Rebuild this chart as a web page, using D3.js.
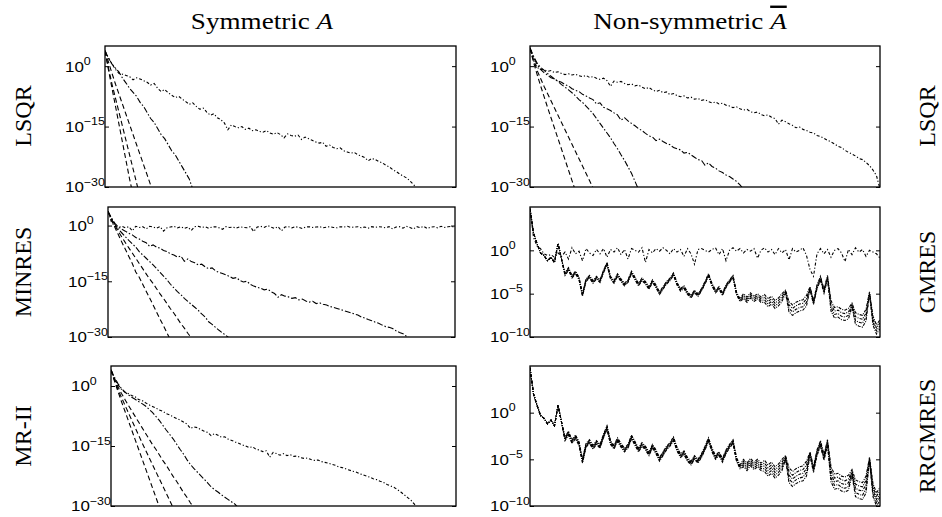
<!DOCTYPE html>
<html>
<head>
<meta charset="utf-8">
<script src="https://cdn.jsdelivr.net/npm/d3@7"></script>
<style>
  body { margin: 0; background: #fff; }
  text { fill: #000; }
</style>
</head>
<body>
<svg id="chart" width="942" height="517"></svg>
<script>
// log10 of the error per iteration

var symLsqr = [
  [3.8, -1, -5.5, -10, -14.5, -19, -23.5, -28, -32],
  [3.8, -0.5, -4.5, -8, -11.5, -15, -18.5, -22, -25.5, -29, -32.5],
  [3.8, 1, -1.8, -4.5, -7, -9.5, -12, -14.5, -17, -19.5, -22, -24.5, -27, -29.5, -32],
  [3.8, 2, 0.5, -0.5, -1.5, -3, -4.2, -5.5, -6.5, -7.5, -9, -10, -11.5, -13, -14, -15.5, -17, -18,
   -19.5, -21, -22, -23.5, -25, -26.5, -28, -30.5],
  [3.8, 2.0, 0.5, -0.8, -1.8, -2.0, -2.3, -2.6, -3.4, -2.9, -3.2, -3.6, -4.0, -4.7, -4.3, -5.5, -6.3,
   -5.8, -6.6, -7.2, -7.8, -7.5, -8.2, -8.8, -9.5, -9.1, -10.0, -10.7, -10.4, -11.4, -12.2, -11.8,
   -12.8, -13.3, -14.1, -15.8, -14.6, -15.0, -15.3, -15.0, -15.7, -15.4, -16.0, -15.8, -16.2, -16.4,
   -16.0, -16.6, -16.9, -16.5, -17.0, -17.8, -16.8, -17.2, -17.4, -17.1, -18.2, -17.6, -18.0, -18.4,
   -18.8, -19.1, -18.9, -19.9, -19.6, -20.2, -20.5, -20.3, -21.0, -21.3, -21.6, -21.4, -22.0, -22.3,
   -22.7, -23.5, -22.9, -23.2, -23.7, -24.0, -24.6, -25.0, -25.7, -26.2, -26.8, -27.3, -27.8, -28.6,
   -29.5, -30.5]
];

var nonsymLsqr = [
  [4.5, 1, -2, -4.8, -7.5, -10.2, -12.8, -15.4, -18, -20.6, -23.2, -25.8, -28.4, -31],
  [4.5, 1.5, -1, -3, -5, -6.8, -8.6, -10.4, -12.2, -14, -15.8, -17.6, -19.4, -21.2, -23, -24.8,
   -26.6, -28.4, -30.2, -32],
  [4.5, 2.5, 0.8, -0.3, -1.0, -1.8, -2.5, -3.2, -3.8, -4.6, -5.2, -5.9, -6.6, -7.4, -8.3, -9.0,
   -9.9, -10.8, -11.8, -13.0, -14.2, -15.4, -16.6, -17.8, -19.2, -20.5, -22.0, -23.4, -25.0, -26.6,
   -28.6, -30.6],
  [4.5, 2.2, 0.5, -0.8, -1.6, -2.2, -2.9, -3.2, -3.7, -4.0, -4.6, -4.9, -5.6, -6.0, -6.3, -7.0,
   -7.4, -7.9, -8.3, -9.4, -9.1, -10.2, -10.6, -11.0, -11.6, -12.1, -13.4, -12.8, -13.6, -14.2,
   -14.8, -15.5, -16.0, -16.7, -17.3, -17.6, -18.5, -18.1, -18.7, -19.2, -19.5, -20.2, -20.5, -20.8,
   -21.6, -21.4, -22.0, -22.6, -23.2, -23.4, -24.6, -24.0, -24.9, -25.3, -26.0, -26.4, -27.0, -27.4,
   -28.0, -28.6, -29.5, -30.5],
  [4.5, 1.5, -0.3, -0.8, -0.9, -1.3, -1.1, -1.6, -1.4, -1.8, -2.1, -1.9, -2.2, -2.0, -2.4, -2.6,
   -2.3, -2.8, -2.6, -3.0, -3.3, -3.0, -3.6, -5.0, -3.7, -4.0, -3.8, -4.3, -4.6, -4.4, -4.9, -4.7,
   -5.2, -5.6, -5.3, -5.9, -6.3, -6.0, -6.6, -6.4, -7.1, -6.8, -7.3, -7.6, -7.4, -7.9, -7.7, -8.2,
   -8.0, -8.5, -8.3, -8.8, -9.1, -8.9, -9.4, -9.2, -9.7, -9.9, -10.3, -10.1, -10.6, -10.9, -10.7,
   -11.3, -11.6, -11.4, -12.0, -12.3, -12.1, -12.7, -13.0, -14.4, -13.4, -13.8, -14.3, -14.7, -15.3,
   -15.1, -15.7, -16.0, -16.4, -16.6, -17.2, -17.5, -17.9, -18.4, -18.8, -19.3, -19.9, -20.2, -20.9,
   -21.4, -21.8, -22.3, -22.9, -23.2, -23.9, -24.7, -25.8, -27.2, -30.5]
];

var symMinres = [
  [3.8, 1.5, -0.5, -2.5, -4.5, -6.4, -8.3, -10.2, -12.5, -13.9, -15.8, -17.7, -19.5, -21.4, -23.3,
   -25.2, -27.0, -28.9, -30.8],
  [3.8, 1.8, 0, -1.6, -3.1, -4.6, -6.0, -7.4, -8.8, -10.2, -11.6, -13.0, -14.4, -15.6, -17.0, -18.4,
   -19.6, -21.0, -22.4, -23.6, -25.0, -26.4, -27.6, -29.0, -30.2, -31.5],
  [3.8, 2.0, 0.3, -1.0, -2.0, -3.0, -4.0, -4.9, -5.8, -7.0, -7.9, -8.8, -9.7, -10.6, -11.6, -12.6,
   -13.6, -14.6, -15.8, -16.8, -17.8, -18.6, -19.6, -20.4, -21.2, -22.0, -22.8, -23.8, -24.6, -25.9,
   -26.6, -27.4, -28.2, -28.9, -29.6, -30.3, -31.2],
  [3.8, 2.0, 0.6, -0.4, -1.0, -1.5, -2.1, -2.5, -3.2, -3.6, -4.2, -4.6, -5.6, -5.2, -5.8, -6.1,
   -6.7, -7.0, -7.6, -7.9, -8.5, -8.2, -9.6, -9.0, -9.7, -10.0, -10.6, -10.4, -11.1, -11.6, -11.4,
   -12.2, -12.6, -12.9, -13.3, -13.7, -14.2, -14.0, -14.8, -15.2, -15.0, -15.8, -16.3, -16.6, -16.9,
   -17.3, -17.1, -17.8, -18.3, -19.3, -18.6, -19.0, -19.2, -19.6, -19.4, -20.0, -19.8, -20.3, -20.6,
   -20.4, -21.0, -20.8, -21.2, -21.4, -21.8, -22.0, -22.3, -22.6, -22.9, -23.2, -23.5, -23.8, -24.1,
   -24.6, -24.9, -25.3, -25.6, -26.0, -26.3, -26.8, -27.2, -27.4, -27.7, -28.3, -28.8, -29.1, -29.8,
   -30.3, -31.0],
  [3.8, 0.9, -0.2, -0.5, -0.2, -0.6, -0.3, -1.4, -0.2, -0.5, -0.3, -0.9, -0.2, -0.4, -0.7, -0.3,
   -1.5, -0.6, -0.4, -0.2, -0.6, -0.3, -0.8, -0.4, -1.3, -0.3, -0.2, -0.5, -0.3, -0.7, -0.4, -0.3,
   -0.6, -1.0, -0.3, -0.5, -0.4, -0.7, -0.3, -0.5, -0.6, -0.3, -1.6, -0.4, -0.2, -0.5, 0.0, -0.4,
   -0.8, -0.3, -1.4, -0.4, -0.3, -0.6, -0.3, -0.5, -0.8, -0.4, -0.3, -0.5, -0.4, -0.3, -0.6, -0.4,
   -0.3, -0.5, -0.6, -0.3, -0.4, -0.2, -0.5, -0.4, -0.3, -0.6, -0.4, -0.7, -0.3, -0.5, -0.3, -0.4,
   -0.6, -0.3, -0.9, -0.4, -0.3, -0.7, -0.2, -0.5, -0.9, -0.3, -0.6, -0.2, -0.8, -0.4, -0.3, -0.6,
   -0.2, -0.5, -0.3, -0.2, -0.5]
];

var symMr2 = [
  [4, 1.2, -1.3, -3.8, -6.2, -8.6, -11.0, -13.4, -15.8, -18.2, -20.6, -23.0, -25.4, -27.8, -30.2,
   -32.6],
  [4, 1.5, -0.8, -2.8, -4.7, -6.6, -8.5, -10.4, -12.3, -14.2, -16.0, -17.8, -19.6, -21.4, -23.2,
   -25.0, -26.8, -28.6, -30.4],
  [4, 1.8, -0.2, -1.8, -3.3, -4.8, -6.2, -7.6, -9.0, -10.4, -11.8, -13.2, -14.6, -15.8, -17.2,
   -18.6, -19.8, -21.2, -22.6, -23.8, -25.2, -26.6, -27.8, -29.2, -30.4],
  [4, 2.2, 0.6, -0.6, -1.5, -2.2, -2.8, -3.3, -3.9, -4.4, -5.0, -5.8, -6.6, -7.6, -8.6, -9.8,
   -11.0, -12.1, -13.2, -14.5, -15.8, -17.0, -18.4, -19.6, -20.6, -21.5, -22.4, -23.3, -24.2, -25.2,
   -25.9, -26.5, -27.2, -27.8, -28.4, -29.0, -29.6, -30.6],
  [4, 1.8, 0.3, -0.8, -1.5, -1.9, -2.4, -2.7, -3.4, -3.6, -4.2, -4.7, -5.1, -5.5, -6.0, -6.3, -6.9,
   -7.2, -7.7, -8.1, -8.5, -9.0, -9.5, -10.6, -10.2, -10.4, -10.9, -11.3, -11.6, -12.4, -11.9,
   -12.3, -12.8, -12.7, -13.3, -13.6, -14.0, -14.3, -14.7, -15.0, -15.4, -15.2, -15.8, -16.0, -16.4,
   -16.2, -17.8, -16.6, -16.9, -17.3, -16.9, -17.4, -17.2, -17.6, -17.5, -17.9, -18.1, -18.0, -18.4,
   -18.6, -18.5, -18.9, -19.1, -19.3, -19.6, -19.8, -20.2, -20.4, -20.7, -21.0, -21.3, -21.5, -21.9,
   -22.2, -22.5, -22.8, -23.2, -23.4, -23.8, -24.1, -24.6, -25.0, -25.3, -25.9, -26.5, -27.2, -27.9,
   -28.6, -29.6, -30.6]
];

// the flat, stagnating GMRES curve
var gmresTop = [4.8, 1.5, 0.5, 0.2, -0.4, -0.6, -0.5, -0.8, -0.3, -0.7, -0.2, -1.0, 0.3, -0.4, -0.1,
  -1.2, 0.2, -0.3, -0.6, 0.1, -0.4, 0.2, -0.8, 0.1, -0.2, 0.3, -0.5, 0.1, -1.0, 0.2, 0.0, -0.2, 0.3,
  -1.4, 0.1, -0.3, 0.2, -0.1, 0.3, 0.0, -0.4, 0.2, -0.2, 0.1, -0.7, 0.2, -0.4, -1.6, 0.1, 0.2, 0.0,
  -0.2, 0.1, 0.3, -0.5, 0.2, -1.2, 0.0, 0.3, -0.1, 0.2, -0.3, 0.1, -0.1, 0.2, -0.9, 0.0, 0.3, -0.2,
  0.1, -0.5, 0.2, -0.3, 0.1, -1.1, 0.2, -0.2, 0.0, 0.3, -0.6, -2.2, -3.0, -0.4, 0.2, -0.4, 0.1,
  -0.8, 0.0, 0.2, -0.3, -1.3, 0.1, -0.5, 0.3, -0.2, 0.1, -0.7, 0.0, -0.2, -0.4, -0.9];

// the tight bundle shared by GMRES and RRGMRES (upper line of the bundle)
var krylovBundle = [4.8, 2.0, 0.8, -0.3, -0.6, -1.2, -0.8, -1.4, 0.8, -1.0, -2.6, -2.0, -2.9, -2.4,
  -3.1, -5.0, -3.3, -2.9, -3.5, -3.0, -3.4, -2.3, -1.4, -3.0, -3.5, -2.7, -3.3, -3.8, -3.4, -2.4,
  -3.1, -3.8, -3.2, -3.6, -4.2, -3.4, -4.0, -4.8, -4.2, -3.6, -3.2, -2.6, -3.7, -4.4, -4.1, -4.8,
  -5.2, -4.6, -5.0, -4.4, -3.6, -2.7, -3.8, -4.6, -4.2, -4.9, -4.0, -3.4, -2.9, -4.8, -5.6, -5.0,
  -5.4, -4.9, -5.3, -5.0, -5.4, -5.1, -5.6, -5.3, -5.8, -5.5, -5.0, -4.6, -5.9, -6.3, -6.0, -5.8,
  -5.7, -5.2, -4.2, -5.8, -4.0, -3.0, -4.5, -2.9, -5.8, -6.6, -6.5, -6.8, -6.9, -6.7, -6.1, -7.2,
  -7.4, -7.5, -6.8, -4.8, -7.6, -8.6, -8.0];

// gap in decades between neighbouring lines of the bundle
var krylovGap = [0, 0, 0, 0, 0, 0, 0, 0, 0, 0,
  0.1, 0.1, 0.1, 0.1, 0.1, 0.1, 0.1, 0.1, 0.1, 0.1, 0.1, 0.1, 0.1, 0.1, 0.1, 0.1, 0.1, 0.1, 0.1,
  0.1, 0.1, 0.1, 0.1, 0.1, 0.1, 0.1, 0.1, 0.1, 0.1, 0.1, 0.1, 0.1, 0.1, 0.1, 0.1, 0.1, 0.1, 0.1,
  0.1, 0.1, 0.1, 0.1, 0.1, 0.1, 0.1, 0.1,
  0.1, 0.1, 0.1, 0.1, 0.1, 0.2, 0.2, 0.2, 0.2, 0.2, 0.2, 0.3, 0.3, 0.3, 0.3, 0.3, 0.3, 0.1,
  0.4, 0.4, 0.4, 0.4, 0.4, 0.4, 0.1, 0.15, 0.15, 0.15, 0.15, 0.15, 0.4, 0.4, 0.4, 0.4, 0.4, 0.4,
  0.15, 0.45, 0.45, 0.45, 0.45, 0.1, 0.35, 0.35, 0.35];

var leftTicks = [0, -15, -30];
var rightTicks = [0, -5, -10];
var columnTitles = ['Symmetric ', 'Non-symmetric '];
var rowLabelsLeft = ['LSQR', 'MINRES', 'MR-II'];
var rowLabelsRight = ['LSQR', 'GMRES', 'RRGMRES'];

function fan(base, gap, count) {
  return d3.range(count).map(function(k) {
    return base.map(function(v, i) { return v - k * gap[i]; });
  });
}

var dashes = {
  dash: '5,3',
  dashDot: '6,2,1.5,2',
  dotDash: '3,2,1.2,2',
  fine: '3,1.2,1,1.2'
};

var panels = [
  { series: symLsqr, dom: [-30, 5], ticks: leftTicks, box: [105, 46, 351, 141],
    styles: ['dash', 'dash', 'dash', 'dashDot', 'dotDash'] },
  { series: nonsymLsqr, dom: [-30, 5], ticks: leftTicks, box: [530, 46, 350, 141],
    styles: ['dash', 'dash', 'dashDot', 'dashDot', 'dotDash'] },
  { series: symMinres, dom: [-30, 5], ticks: leftTicks, box: [108, 207, 347, 130],
    styles: ['dash', 'dash', 'dashDot', 'dashDot', 'dotDash'] },
  { series: [gmresTop].concat(fan(krylovBundle, krylovGap, 4)), dom: [-10, 5], ticks: rightTicks,
    box: [530, 207, 350, 130], styles: ['dotDash', 'fine', 'fine', 'fine', 'fine'] },
  { series: symMr2, dom: [-30, 5], ticks: leftTicks, box: [111, 366, 345, 140],
    styles: ['dash', 'dash', 'dash', 'dashDot', 'dotDash'] },
  { series: fan(krylovBundle, krylovGap, 5), dom: [-10, 5], ticks: rightTicks,
    box: [530, 366, 350, 140], styles: ['fine', 'fine', 'fine', 'fine', 'fine'] }
];

var svg = d3.select('#chart');
var stretch = 'scale(1.13,1)';

panels.forEach(function(p, pi) {
  var left = p.box[0], top = p.box[1], w = p.box[2], h = p.box[3];
  var x = d3.scaleLinear().domain([0, 100]).range([0, w]);
  var y = d3.scaleLog().domain([Math.pow(10, p.dom[0]), Math.pow(10, p.dom[1])]).range([h, 0]);

  var g = svg.append('g').attr('transform', 'translate(' + left + ',' + top + ')');

  g.append('clipPath').attr('id', 'clip' + pi)
    .append('rect').attr('width', w).attr('height', h);

  var line = d3.line()
    .x(function(d, i) { return x(i); })
    .y(function(d) { return y(Math.pow(10, d)); });

  g.append('g').attr('clip-path', 'url(#clip' + pi + ')')
    .selectAll('path')
    .data(p.series)
    .enter().append('path')
    .attr('d', line)
    .attr('fill', 'none')
    .attr('stroke', '#000')
    .attr('stroke-width', 1.1)
    .attr('stroke-dasharray', function(d, i) { return dashes[p.styles[i]]; });

  var tickVals = p.ticks.map(function(t) { return Math.pow(10, t); });
  [d3.axisLeft(y), d3.axisRight(y)].forEach(function(axis, ai) {
    var a = g.append('g')
      .attr('transform', ai ? 'translate(' + w + ',0)' : null)
      .call(axis.tickValues(tickVals).tickSize(-4).tickFormat(''));
    a.select('.domain').remove();
    a.selectAll('line').attr('stroke', '#000');
  });

  g.append('rect')
    .attr('width', w).attr('height', h)
    .attr('fill', 'none').attr('stroke', '#000').attr('stroke-width', 1.3);

  p.ticks.forEach(function(t) {
    var lab = g.append('g')
      .attr('transform', 'translate(-40,' + y(Math.pow(10, t)) + ') ' + stretch)
      .append('text')
      .attr('dy', '0.36em')
      .style('font-family', '"Liberation Sans", Arial, sans-serif')
      .style('font-size', '15px');
    lab.append('tspan').text('10');
    lab.append('tspan')
      .attr('dy', '-0.6em')
      .style('font-size', '11px')
      .text(t === 0 ? '0' : '\u2212' + Math.abs(t));
  });
});

var serif = '"Liberation Serif", "Times New Roman", serif';

// column titles
[262, 690].forEach(function(cx, ci) {
  var t = svg.append('g')
    .attr('transform', 'translate(' + cx + ',29) ' + stretch)
    .append('text')
    .attr('text-anchor', 'middle')
    .style('font-family', serif)
    .style('font-size', '24px');
  t.append('tspan').text(columnTitles[ci]);
  t.append('tspan')
    .style('font-style', 'italic')
    .style('text-decoration', ci ? 'overline' : 'none')
    .text('A');
});

// row labels
var rowCenters = [116, 272, 436];
rowCenters.forEach(function(cy, ri) {
  [[23, rowLabelsLeft], [927, rowLabelsRight]].forEach(function(side) {
    svg.append('g')
      .attr('transform', 'translate(' + side[0] + ',' + cy + ') rotate(-90)')
      .append('text')
      .attr('text-anchor', 'middle')
      .attr('dy', '0.35em')
      .style('font-family', serif)
      .style('font-size', '24px')
      .text(side[1][ri]);
  });
});
</script>
</body>
</html>
